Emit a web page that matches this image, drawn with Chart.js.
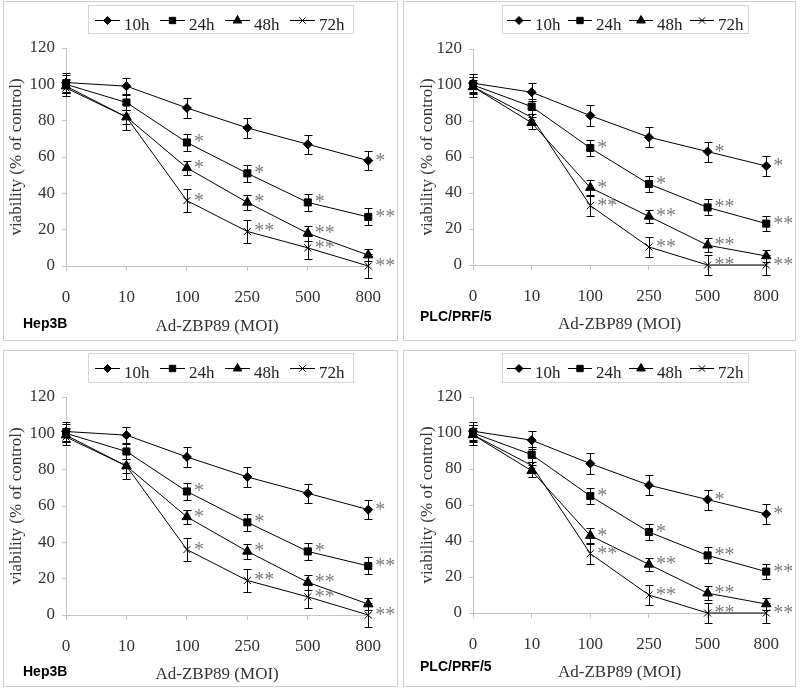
<!DOCTYPE html>
<html>
<head>
<meta charset="utf-8">
<script src="https://cdn.jsdelivr.net/npm/chart.js@4/dist/chart.umd.min.js"></script>
<style>
body { margin: 0; background: #fff; }
.panel { position: absolute; box-sizing: border-box; border: 1px solid #cfcfcf; }
.panel canvas { display: block; }
</style>
</head>
<body>
<div class="panel" style="left:3px;top:1px;width:395px;height:340px"><canvas id="c1" width="393" height="338"></canvas></div>
<div class="panel" style="left:403px;top:1px;width:393px;height:340px"><canvas id="c2" width="391" height="338"></canvas></div>
<div class="panel" style="left:3px;top:350px;width:395px;height:337px"><canvas id="c3" width="393" height="335"></canvas></div>
<div class="panel" style="left:403px;top:350px;width:393px;height:337px"><canvas id="c4" width="391" height="335"></canvas></div>
<script>
// ---- data ----
const doses = ['0', '10', '100', '250', '500', '800'];
const times = ['10h', '24h', '48h', '72h'];
const yTicks = [0, 20, 40, 60, 80, 100, 120];

// Hep3B
const hep10 = [101, 99, 87, 76, 67, 58];
const hep24 = [100, 90, 68, 51, 35, 27];
const hep48 = [99, 82, 54, 35, 18, 6];
const hep72 = [98, 82, 36, 19, 10, 0];
const hepErr10 = [5, 4.5, 5.3, 5.3, 5.3, 5.2];
const hepErr24 = [5, 4, 4.8, 4.6, 4.6, 4.7];
const hepErr48 = [4, 4, 3.9, 4, 4, 3.4];
const hepErr72 = [4.5, 7, 6.4, 6.2, 6.3, 6.6];
const hepStar10 = ['', '', '', '', '', '*'];
const hepStar24 = ['', '', '*', '*', '*', '**'];
const hepStar48 = ['', '', '*', '*', '**', ''];
const hepStar72 = ['', '', '*', '**', '**', '**'];

// PLC/PRF/5
const plc10 = [101, 96, 83, 71, 63, 55];
const plc24 = [100, 88, 65, 45, 32, 23];
const plc48 = [99, 79, 43, 27, 11, 5];
const plc72 = [99, 82, 33, 10, 0, 0];
const plcErr10 = [5, 5, 6, 5.5, 5.5, 5.7];
const plcErr24 = [4.5, 4, 4.4, 4.4, 4.4, 4];
const plcErr48 = [4, 3.5, 4, 3.6, 4, 3.3];
const plcErr72 = [5.5, 4, 5.6, 5.5, 5.5, 5.5];
const plcStar10 = ['', '', '', '', '*', '*'];
const plcStar24 = ['', '', '*', '*', '**', '**'];
const plcStar48 = ['', '', '*', '**', '**', ''];
const plcStar72 = ['', '', '**', '**', '**', '**'];

const markers = ['rectRot', 'rect', 'triangle', 'crossRot'];
const markerSize = [4.5, 5, 5.5, 5];

const serif = '"Liberation Serif", "DejaVu Serif", serif';
const axisGray = '#c4c4c4';
const textGray = '#333';

Chart.defaults.font.family = serif;

function panelChart(id, p) {
  const datasets = p.values.map((vals, k) => ({
    label: times[k],
    data: vals,
    borderColor: '#000',
    backgroundColor: '#000',
    borderWidth: 1,
    pointStyle: markers[k],
    pointRadius: markerSize[k],
    pointHoverRadius: markerSize[k],
    pointBackgroundColor: '#000',
    pointBorderColor: '#000',
    pointBorderWidth: 1,
    tension: 0,
    clip: false
  }));

  const extras = {
    id: 'extras',
    afterDatasetsDraw(chart) {
      const ctx = chart.ctx;
      const ys = chart.scales.y;
      ctx.save();
      // error bars
      ctx.strokeStyle = '#000';
      ctx.lineWidth = 1;
      p.values.forEach((vals, k) => {
        const pts = chart.getDatasetMeta(k).data;
        vals.forEach((v, j) => {
          const e = p.errors[k][j];
          const x = Math.round(pts[j].x) + 0.5;
          const t = Math.round(ys.getPixelForValue(v + e)) + 0.5;
          const b = Math.round(ys.getPixelForValue(v - e)) + 0.5;
          ctx.beginPath();
          ctx.moveTo(x, t); ctx.lineTo(x, b);
          ctx.moveTo(x - 4, t); ctx.lineTo(x + 4, t);
          ctx.moveTo(x - 4, b); ctx.lineTo(x + 4, b);
          ctx.stroke();
        });
      });
      // significance marks
      ctx.fillStyle = '#7d7d7d';
      ctx.font = '20px ' + serif;
      ctx.textAlign = 'left';
      ctx.textBaseline = 'alphabetic';
      p.stars.forEach((row, k) => {
        const pts = chart.getDatasetMeta(k).data;
        row.forEach((s, j) => {
          if (s) ctx.fillText(s, pts[j].x + 7, pts[j].y + 6);
        });
      });
      ctx.restore();
    },
    afterDraw(chart) {
      const ctx = chart.ctx;
      const lg = p.legend;
      ctx.save();
      ctx.strokeStyle = '#d6d6d6';
      ctx.lineWidth = 1;
      ctx.strokeRect(lg.x + 0.5, lg.y + 0.5, lg.w, lg.h);
      ctx.font = '17px ' + serif;
      ctx.textBaseline = 'alphabetic';
      ctx.textAlign = 'left';
      times.forEach((t, k) => {
        const x0 = lg.x + lg.start + k * lg.step;
        const ly = lg.y + 15.5;
        ctx.strokeStyle = '#000';
        ctx.fillStyle = '#000';
        ctx.beginPath();
        ctx.moveTo(x0, ly);
        ctx.lineTo(x0 + lg.len, ly);
        ctx.stroke();
        Chart.helpers.drawPoint(ctx, {
          pointStyle: markers[k], radius: markerSize[k] - 0.5, borderWidth: 1, rotation: 0
        }, x0 + lg.len / 2, ly);
        ctx.fillStyle = '#222';
        ctx.fillText(t, x0 + lg.len + 4, lg.y + 25);
      });
      // cell line name
      ctx.fillStyle = '#000';
      ctx.font = 'bold 14px "Liberation Sans", Arial, sans-serif';
      ctx.textBaseline = 'middle';
      ctx.fillText(p.name, p.nameX, p.nameY);
      ctx.restore();
    }
  };

  return new Chart(document.getElementById(id), {
    type: 'line',
    data: { labels: doses, datasets: datasets },
    plugins: [extras],
    options: {
      responsive: false,
      animation: false,
      events: [],
      layout: { padding: { left: 0, top: p.top, right: p.right, bottom: 0 } },
      plugins: { legend: { display: false }, tooltip: { enabled: false } },
      scales: {
        x: {
          offset: false,
          grid: { drawOnChartArea: false, drawTicks: true, tickLength: 5, color: axisGray },
          border: { display: true, color: axisGray },
          ticks: { color: textGray, font: { size: 17 }, padding: 16, maxRotation: 0, autoSkip: false },
          title: {
            display: true, text: 'Ad-ZBP89 (MOI)', color: textGray,
            font: { size: 17 }, padding: { top: 0, bottom: p.xTitlePad }
          },
          afterFit: s => { s.height = p.xH; }
        },
        y: {
          min: 0,
          max: 120,
          afterBuildTicks: s => { s.ticks = yTicks.map(v => ({ value: v })); },
          grid: { drawOnChartArea: false, drawTicks: true, tickLength: 4, color: axisGray },
          border: { display: true, color: axisGray },
          ticks: { color: textGray, font: { size: 17 }, padding: 7 },
          title: {
            display: true, text: 'viability (% of control)', color: textGray,
            font: { size: 17 }, padding: { top: p.yTitlePad, bottom: 0 }
          },
          afterFit: s => { s.width = p.yW; }
        }
      }
    }
  });
}

const hepValues = [hep10, hep24, hep48, hep72];
const hepErrors = [hepErr10, hepErr24, hepErr48, hepErr72];
const hepStars = [hepStar10, hepStar24, hepStar48, hepStar72];
const plcValues = [plc10, plc24, plc48, plc72];
const plcErrors = [plcErr10, plcErr24, plcErr48, plcErr72];
const plcStars = [plcStar10, plcStar24, plcStar48, plcStar72];

panelChart('c1', {
  values: hepValues, errors: hepErrors, stars: hepStars,
  top: 46, right: 25, yW: 62, xH: 74, yTitlePad: 2, xTitlePad: 3,
  legend: { x: 84, y: 3, w: 265, h: 28, start: 7, step: 65, len: 25 },
  name: 'Hep3B', nameX: 19, nameY: 322
});
panelChart('c2', {
  values: plcValues, errors: plcErrors, stars: plcStars,
  top: 47, right: 26, yW: 69, xH: 75, yTitlePad: 13, xTitlePad: 5,
  legend: { x: 98, y: 3, w: 246, h: 28, start: 5, step: 61, len: 24 },
  name: 'PLC/PRF/5', nameX: 16, nameY: 315
});
panelChart('c3', {
  values: hepValues, errors: hepErrors, stars: hepStars,
  top: 46, right: 25, yW: 62, xH: 71, yTitlePad: 2, xTitlePad: 1,
  legend: { x: 84, y: 2, w: 265, h: 29, start: 7, step: 65, len: 25 },
  name: 'Hep3B', nameX: 19, nameY: 321
});
panelChart('c4', {
  values: plcValues, errors: plcErrors, stars: plcStars,
  top: 46, right: 26, yW: 69, xH: 73, yTitlePad: 13, xTitlePad: 3,
  legend: { x: 98, y: 2, w: 246, h: 29, start: 5, step: 61, len: 24 },
  name: 'PLC/PRF/5', nameX: 16, nameY: 316
});
</script>
</body>
</html>
